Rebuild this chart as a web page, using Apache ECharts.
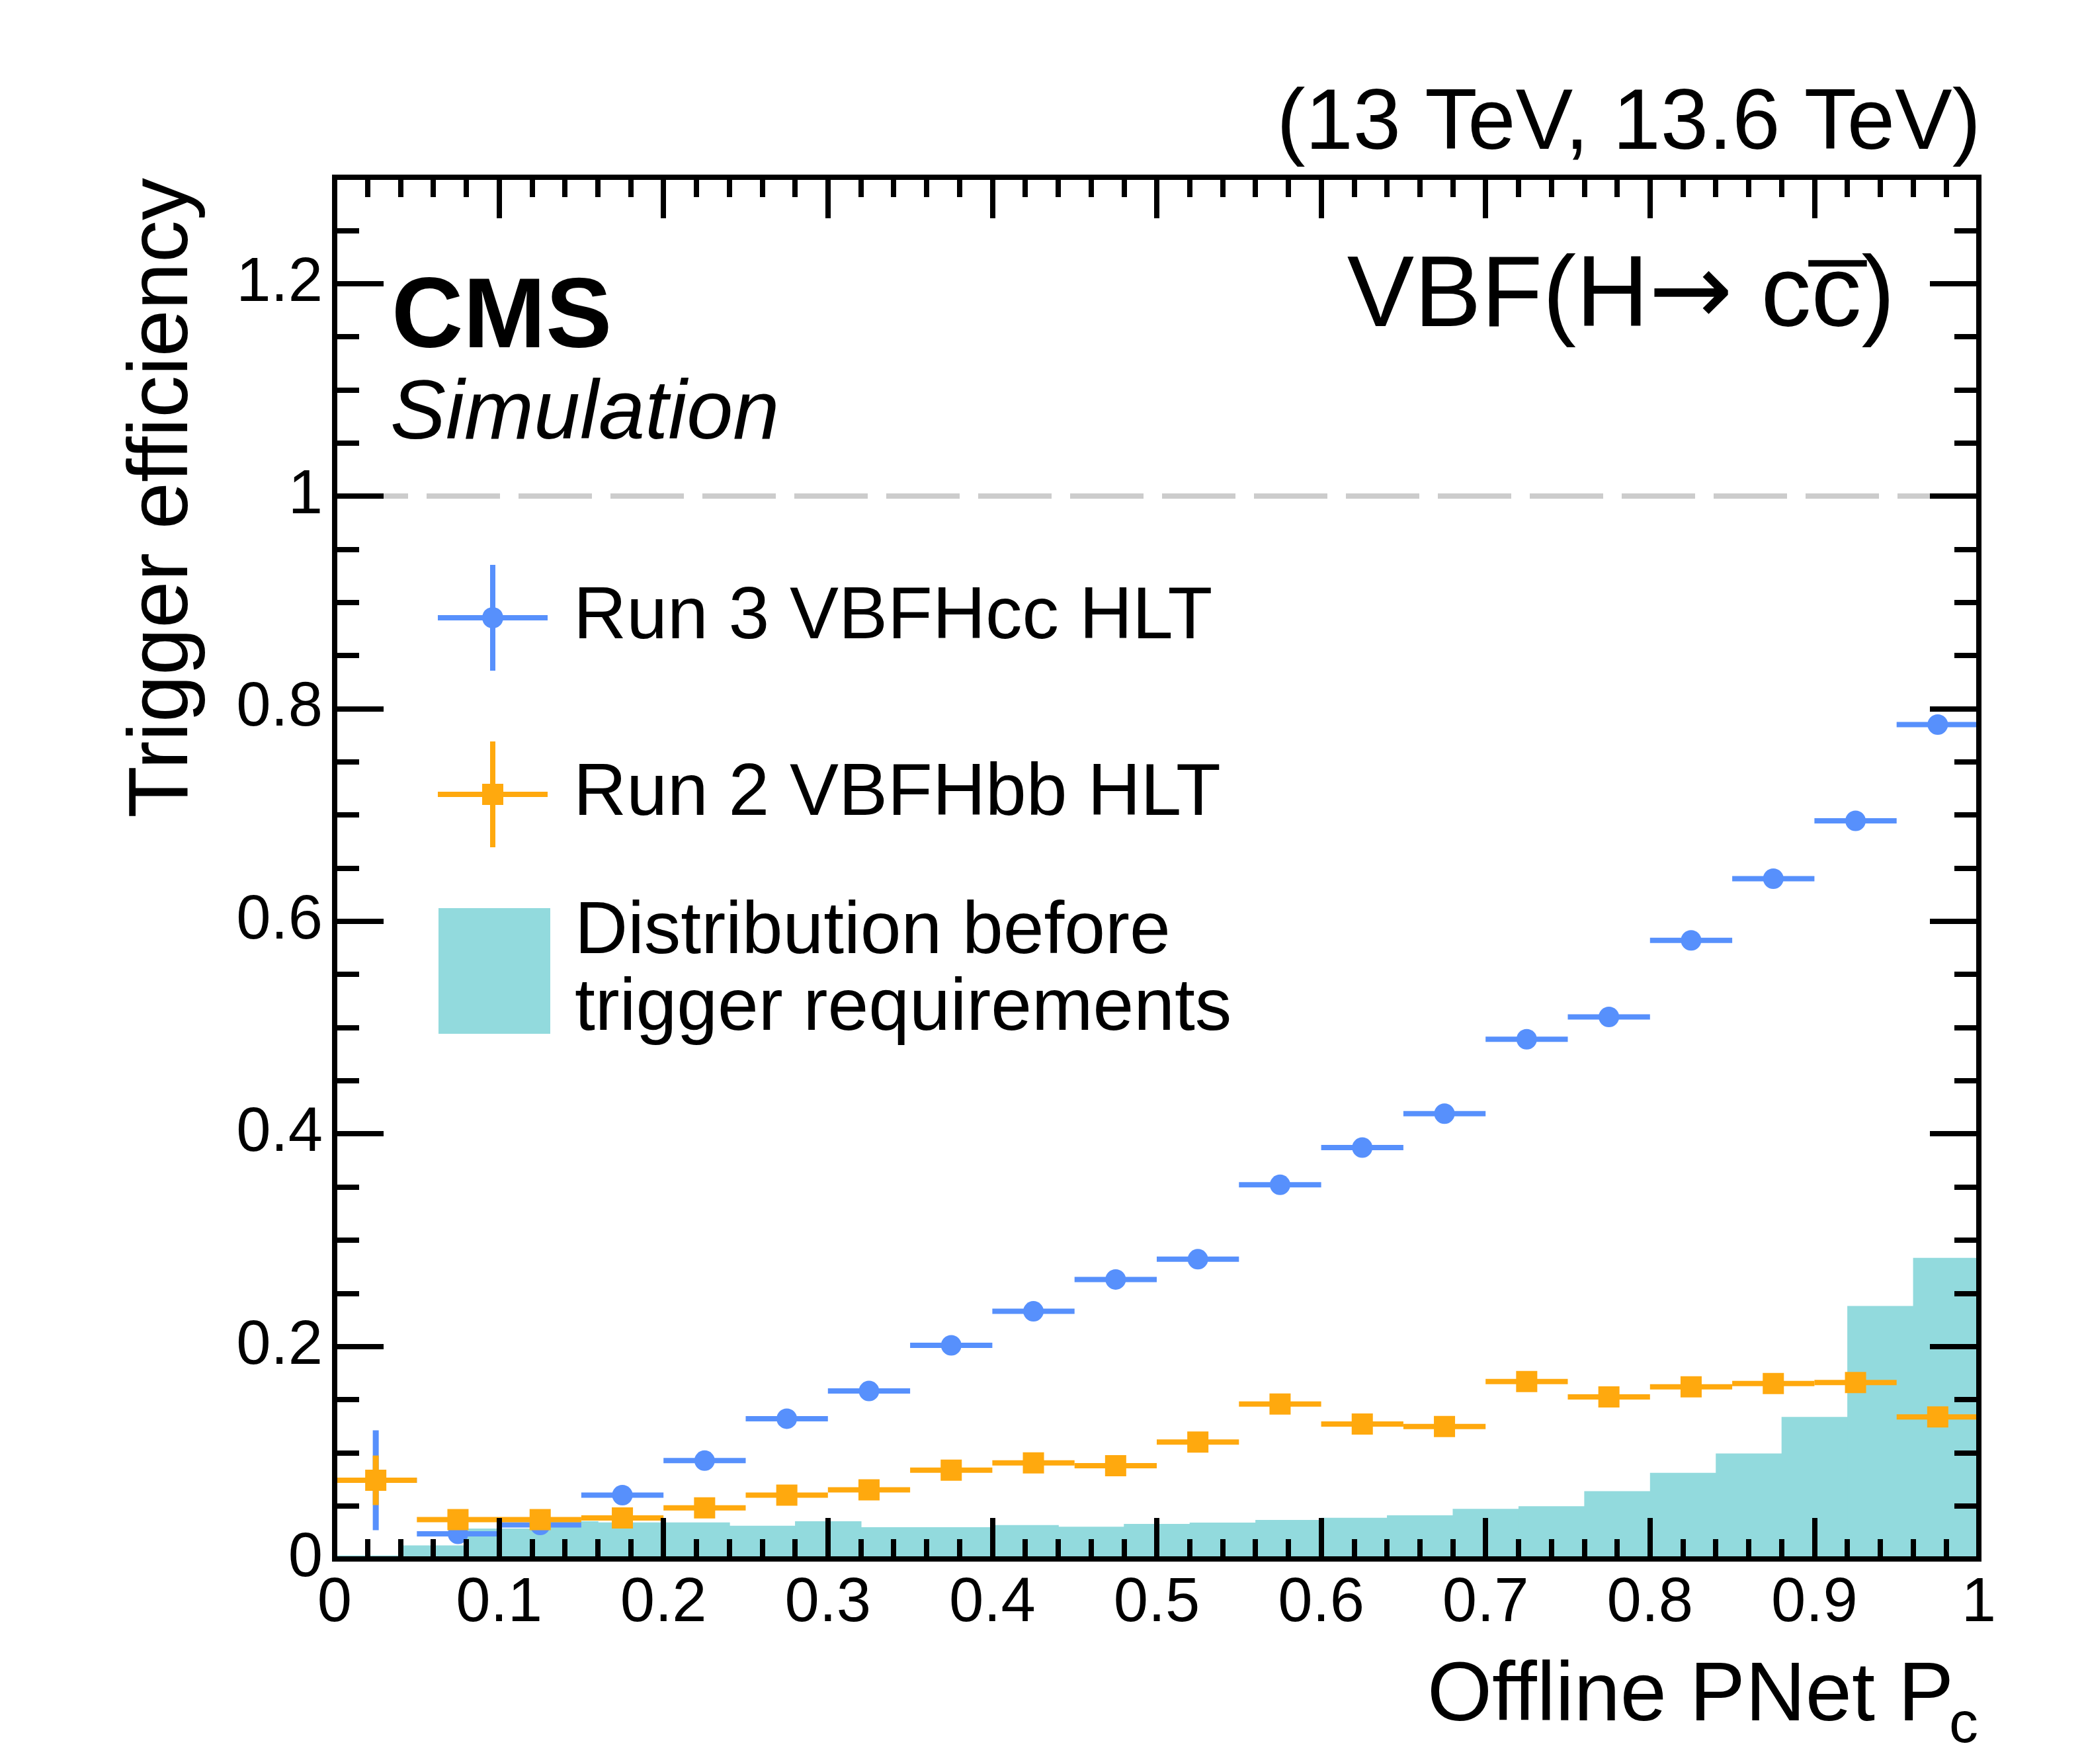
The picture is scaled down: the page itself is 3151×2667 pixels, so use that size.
<!DOCTYPE html>
<html>
<head>
<meta charset="utf-8">
<script src="https://cdn.jsdelivr.net/npm/echarts@6/dist/echarts.min.js"></script>
<style>
html,body{margin:0;padding:0;background:#fff;}
#chart{width:3151px;height:2667px;}
</style>
</head>
<body>
<div id="chart"></div>
<script>
// ---------------- data ----------------
const pointX = [0.025,0.075,0.125,0.175,0.225,0.275,0.325,0.375,0.425,0.475,0.525,0.575,0.625,0.675,0.725,0.775,0.825,0.875,0.925,0.975];
const run3Eff = [0.074,0.0236,0.032,0.060,0.0925,0.132,0.158,0.201,0.233,0.263,0.282,0.352,0.387,0.419,0.489,0.510,0.582,0.640,0.6945,0.785];
const run3Err = [0.047,0.004,0.004,0.004,0.005,0.005,0.005,0.006,0.006,0.006,0.006,0.007,0.007,0.007,0.007,0.007,0.007,0.007,0.007,0.006];
const run2Eff = [0.074,0.037,0.037,0.0386,0.048,0.060,0.065,0.0836,0.0904,0.0877,0.110,0.1457,0.127,0.1246,0.167,0.1525,0.162,0.165,0.166,0.1336];
const run2Err = [0.0233,0.004,0.004,0.004,0.004,0.005,0.005,0.005,0.005,0.005,0.005,0.006,0.006,0.006,0.006,0.006,0.006,0.006,0.006,0.006];
const pointHalfWidth = 0.025;
const histEdges = [0,0.04,0.08,0.12,0.16,0.20,0.24,0.28,0.32,0.36,0.40,0.44,0.48,0.52,0.56,0.60,0.64,0.68,0.72,0.76,0.80,0.84,0.88,0.92,0.96,1.00];
const histValues = [0.0033,0.0127,0.0286,0.0355,0.0344,0.0344,0.0313,0.0355,0.0299,0.0299,0.0319,0.0303,0.033,0.0342,0.0367,0.0388,0.0411,0.0471,0.0497,0.0638,0.0811,0.0993,0.1336,0.238,0.2833];
const xTickLabels = ['0','0.1','0.2','0.3','0.4','0.5','0.6','0.7','0.8','0.9','1'];
const yTickLabels = ['0','0.2','0.4','0.6','0.8','1','1.2'];
const run3Name = 'Run 3 VBFHcc HLT';
const run2Name = 'Run 2 VBFHbb HLT';
const histName = 'Distribution before trigger requirements';

// ---------------- style ----------------
const FONT = '"Liberation Sans", Arial, Helvetica, sans-serif';
const BLUE = '#5790fc', ORANGE = '#ffa90e', CYAN = '#92dadd';

const chart = echarts.init(document.getElementById('chart'), null, {renderer:'canvas'});

function xAxisCfg(pos, labels) {
  return {
    type:'value', position:pos, min:0, max:1, interval:0.1, z:10,
    axisLine:{show:true, onZero:false, lineStyle:{color:'#000', width:8, cap:'square'}},
    axisTick:{show:true, inside:true, length:62, lineStyle:{color:'#000', width:8}},
    minorTick:{show:true, splitNumber:5, length:30, lineStyle:{color:'#000', width:8}},
    splitLine:{show:false}, minorSplitLine:{show:false},
    axisLabel:{show:labels, margin:21, fontSize:94, color:'#000', fontFamily:FONT,
      showMinLabel:true, showMaxLabel:true,
      formatter:(v)=>xTickLabels[Math.round(v*10)] ?? ''}
  };
}
function yAxisCfg(pos, major, labels) {
  return {
    type:'value', position:pos, min:0, max:1.3, interval: major ? 0.2 : 0.05, z:10,
    axisLine:{show:true, onZero:false, lineStyle:{color:'#000', width:8, cap:'square'}},
    axisTick:{show:true, inside:true, length: major ? 74 : 37, lineStyle:{color:'#000', width:8}},
    minorTick:{show:false}, splitLine:{show:false}, minorSplitLine:{show:false},
    axisLabel:{show:labels, margin:18, fontSize:94, color:'#000', fontFamily:FONT,
      showMinLabel:true, showMaxLabel:false,
      formatter:(v)=>{ const i = Math.round(v/0.2); return (Math.abs(v - i*0.2) < 1e-6) ? (yTickLabels[i] ?? '') : ''; }}
  };
}

function pointRender(color, marker) {
  return function (params, api) {
    const x = api.value(0), y = api.value(1), e = api.value(2);
    const l = api.coord([x - pointHalfWidth, y]);
    const r = api.coord([x + pointHalfWidth, y]);
    const t = api.coord([x, y + e]);
    const b = api.coord([x, y - e]);
    const c = api.coord([x, y]);
    const m = marker === 'circle'
      ? {type:'circle', shape:{cx:c[0], cy:c[1], r:15.5}, style:{fill:color}}
      : {type:'rect', shape:{x:c[0]-16, y:c[1]-16, width:32, height:32}, style:{fill:color}};
    return {type:'group', children:[
      {type:'line', shape:{x1:l[0], y1:l[1], x2:r[0], y2:r[1]}, style:{stroke:color, lineWidth:8}},
      {type:'line', shape:{x1:t[0], y1:t[1], x2:b[0], y2:b[1]}, style:{stroke:color, lineWidth:9}},
      m
    ]};
  };
}

const bluePath = 'path://M0 76 L67.51 76 A16 16 0 0 1 79 64.51 L79 0 L87 0 L87 64.51 A16 16 0 0 1 98.49 76 L166 76 L166 84 L98.49 84 A16 16 0 0 1 87 95.49 L87 160 L79 160 L79 95.49 A16 16 0 0 1 67.51 84 L0 84 Z';
const orangePath = 'path://M0 76 L67 76 L67 64 L79 64 L79 0 L87 0 L87 64 L99 64 L99 76 L166 76 L166 84 L99 84 L99 96 L87 96 L87 160 L79 160 L79 96 L67 96 L67 84 L0 84 Z';
const rectPath = 'path://M0 0 L169 0 L169 190 L0 190 Z';

function legendCfg(name, icon, left, top, w, h, extra) {
  return Object.assign({
    show:true, data:[{name:name, icon:icon}], left:left, top:top, orient:'vertical',
    itemWidth:w, itemHeight:h, padding:0, selectedMode:false, symbolKeepAspect:true,
    itemStyle:{borderWidth:0},
    textStyle:{fontSize:111, color:'#000', fontFamily:FONT, padding:[20,0,0,6]}
  }, extra || {});
}

const option = {
  backgroundColor:'#fff',
  animation:false,
  textStyle:{fontFamily:FONT},
  grid:{left:506, right:159, top:268, bottom:310, containLabel:false, outerBoundsMode:'none'},
  xAxis:[xAxisCfg('bottom', true), xAxisCfg('top', false)],
  yAxis:[yAxisCfg('left', true, true), yAxisCfg('left', false, false), yAxisCfg('right', true, false), yAxisCfg('right', false, false)],
  legend:[
    legendCfg(run3Name, bluePath, 662, 854, 222, 160),
    legendCfg(run2Name, orangePath, 662, 1121, 222, 160),
    legendCfg(histName, rectPath, 663, 1352, 221, 190, {
      formatter:()=>'Distribution before\ntrigger requirements',
      textStyle:{fontSize:111, lineHeight:116, color:'#000', fontFamily:FONT, padding:[0,0,0,6]}
    })
  ],
  series:[
    {
      name:histName, type:'custom', xAxisIndex:0, yAxisIndex:0, z:1, clip:true,
      itemStyle:{color:CYAN},
      encode:{x:[0,1], y:2},
      data: histValues.map((v,i)=>[histEdges[i], histEdges[i+1], v]),
      renderItem:(params, api)=>{
        const p0 = api.coord([api.value(0), api.value(2)]);
        const p1 = api.coord([api.value(1), 0]);
        return {type:'rect', shape:{x:p0[0], y:p0[1], width:p1[0]-p0[0]+1, height:p1[1]-p0[1]}, style:{fill:CYAN}};
      }
    },
    {
      name:'unity', type:'line', xAxisIndex:0, yAxisIndex:0, z:2, silent:true,
      symbol:'none', data:[[0,1],[1,1]],
      lineStyle:{color:'#cccccc', width:8, type:[111,28]}
    },
    {
      name:run3Name, type:'custom', xAxisIndex:0, yAxisIndex:0, z:3,
      itemStyle:{color:BLUE},
      encode:{x:0, y:1},
      data: pointX.map((x,i)=>[x, run3Eff[i], run3Err[i]]),
      renderItem: pointRender(BLUE, 'circle')
    },
    {
      name:run2Name, type:'custom', xAxisIndex:0, yAxisIndex:0, z:4,
      itemStyle:{color:ORANGE},
      encode:{x:0, y:1},
      data: pointX.map((x,i)=>[x, run2Eff[i], run2Err[i]]),
      renderItem: pointRender(ORANGE, 'rect')
    }
  ],
  graphic:[
    {type:'text', x:2995, y:189, style:{text:'(13 TeV, 13.6 TeV)', fontSize:130, fontFamily:FONT, fill:'#000', align:'right', verticalAlign:'middle'}},
    {type:'text', x:592, y:484, style:{text:'CMS', fontSize:150, fontWeight:'bold', fontFamily:FONT, fill:'#000', align:'left', verticalAlign:'middle'}},
    {type:'text', x:590, y:628, style:{text:'Simulation', fontSize:126, fontStyle:'italic', fontFamily:FONT, fill:'#000', align:'left', verticalAlign:'middle'}},
    {type:'text', x:2865, y:451, style:{
      text:'{a|VBF(H}{b|\u2192}{a| cc\u0305)}', align:'right', verticalAlign:'middle',
      rich:{
        a:{fontSize:152, fontFamily:FONT, fill:'#000', lineHeight:152},
        b:{fontSize:152, fontFamily:'"DejaVu Sans", sans-serif', fill:'#000', lineHeight:152}
      }}},
    {type:'text', x:2954, y:2566, style:{text:'Offline PNet P', fontSize:126, fontFamily:FONT, fill:'#000', align:'right', verticalAlign:'middle'}},
    {type:'text', x:2947, y:2610, style:{text:'c', fontSize:88, fontFamily:FONT, fill:'#000', align:'left', verticalAlign:'middle'}},
    {type:'text', x:248, y:269, rotation:Math.PI/2, style:{text:'Trigger efficiency', fontSize:128, fontFamily:FONT, fill:'#000', align:'right', verticalAlign:'middle'}}
  ]
};
chart.setOption(option);
</script>
</body>
</html>
